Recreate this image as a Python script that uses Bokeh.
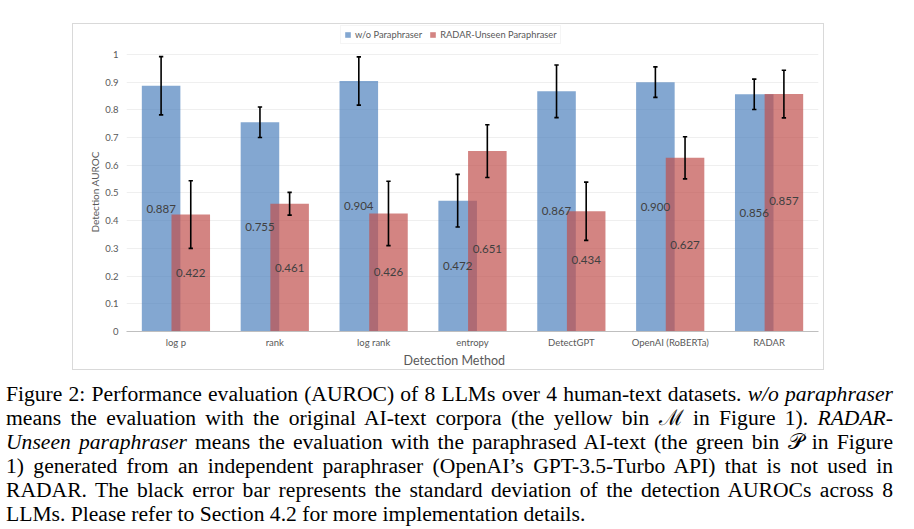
from bokeh.plotting import figure
from bokeh.models import (ColumnDataSource, FactorRange, Range1d, FixedTicker,
                          Legend, LegendItem, Title, Div, Spacer)
from bokeh.layouts import column, row
from bokeh.transform import dodge
from bokeh.core.properties import value
from bokeh.embed import file_html
from bokeh.resources import INLINE

# ---------------- data ----------------
methods = ["log p", "rank", "log rank", "entropy", "DetectGPT", "OpenAI (RoBERTa)", "RADAR"]
series_names = ["w/o Paraphraser", "RADAR-Unseen Paraphraser"]
auroc_wo = [0.887, 0.755, 0.904, 0.472, 0.867, 0.900, 0.856]
std_wo = [0.105, 0.055, 0.087, 0.095, 0.095, 0.055, 0.055]
auroc_unseen = [0.422, 0.461, 0.426, 0.651, 0.434, 0.627, 0.857]
std_unseen = [0.122, 0.041, 0.116, 0.095, 0.105, 0.076, 0.086]
y_ticks = [0, 0.1, 0.2, 0.3, 0.4, 0.5, 0.6, 0.7, 0.8, 0.9, 1]
y_tick_labels = ["0", "0.1", "0.2", "0.3", "0.4", "0.5", "0.6", "0.7", "0.8", "0.9", "1"]
x_title = "Detection Method"
y_title = "Detection AUROC"

caption_lines = [
    "Figure 2: Performance evaluation (AUROC) of 8 LLMs over 4 human-text datasets. <i>w/o paraphraser</i>",
    "means the evaluation with the original AI-text corpora (the yellow bin \u2133 in Figure 1). <i>RADAR-</i>",
    "<i>Unseen paraphraser</i> means the evaluation with the paraphrased AI-text (the green bin \U0001D4AB in Figure",
    "1) generated from an independent paraphraser (OpenAI\u2019s GPT-3.5-Turbo API) that is not used in",
    "RADAR. The black error bar represents the standard deviation of the detection AUROCs across 8",
    "LLMs. Please refer to Section 4.2 for more implementation details.",
]

# styling (label nudges in screen pixels, as placed in the original chart)
label_dy_wo = [0, 0, 0, 0, 0, 0, 0]
label_dy_unseen = [0, 0, 0, 8, -11, 0, -12]

FONT = "Lato"
GREY = "#595959"


def make_source(vals, stds, dys):
    return ColumnDataSource(dict(
        method=methods,
        val=vals,
        lo=[v - s for v, s in zip(vals, stds)],
        hi=[v + s for v, s in zip(vals, stds)],
        mid=[v / 2 for v in vals],
        label=["%.3f" % v for v in vals],
        dy=dys,
    ))


src_wo = make_source(auroc_wo, std_wo, label_dy_wo)
src_un = make_source(auroc_unseen, std_unseen, label_dy_unseen)

# plot area extends upward to hold the legend strip above the 1.0 gridline
p = figure(
    x_range=FactorRange(*methods, range_padding=0),
    y_range=Range1d(0, 1.108),
    width=752, height=347,
    output_backend="svg", toolbar_location=None, title=None,
    min_border_left=53, min_border_right=7, min_border_top=0, min_border_bottom=40,
    background_fill_color="white", border_fill_color="white",
    styles={"border": "1px solid #d9d9d9"},
)
p.outline_line_color = None
p.xgrid.grid_line_color = None
p.ygrid.grid_line_color = "#efefef"
p.ygrid.grid_line_width = 1

OFF = 0.15
BW = 0.39
CAP = 0.022

bars = []
for src, off, color in [(src_wo, -OFF, "#4F81BD"), (src_un, OFF, "#C0504D")]:
    r = p.vbar(x=dodge("method", off, range=p.x_range), top="val", width=BW, source=src,
               fill_color=color, fill_alpha=0.7, line_color=None)
    bars.append(r)

for src, off in [(src_wo, -OFF), (src_un, OFF)]:
    p.segment(x0=dodge("method", off, range=p.x_range), y0="lo",
              x1=dodge("method", off, range=p.x_range), y1="hi",
              source=src, line_color="black", line_width=1.6)
    for yk in ["lo", "hi"]:
        p.segment(x0=dodge("method", off - CAP, range=p.x_range), y0=yk,
                  x1=dodge("method", off + CAP, range=p.x_range), y1=yk,
                  source=src, line_color="black", line_width=1.6)

for src, off in [(src_wo, -OFF), (src_un, OFF)]:
    p.text(x=dodge("method", off, range=p.x_range), y="mid", text="label", source=src,
           y_offset="dy",
           text_align="center", text_baseline="middle", text_font=value(FONT),
           text_font_size="11.5px", text_color="#404040")

# axes
p.yaxis.ticker = FixedTicker(ticks=y_ticks)
p.yaxis.major_label_overrides = dict(zip(y_ticks, y_tick_labels))
p.yaxis.axis_line_color = None
p.yaxis.major_tick_line_color = None
p.yaxis.minor_tick_line_color = None
p.yaxis.major_tick_out = 0
p.yaxis.minor_tick_out = 0
p.yaxis.major_label_standoff = 8
p.yaxis.major_label_text_font = FONT
p.yaxis.major_label_text_font_size = "9.5px"
p.yaxis.major_label_text_color = GREY

p.xaxis.axis_line_color = "#bfbfbf"
p.xaxis.axis_line_width = 1
p.xaxis.major_tick_line_color = None
p.xaxis.minor_tick_line_color = None
p.xaxis.major_tick_out = 0
p.xaxis.minor_tick_out = 0
p.xaxis.major_label_standoff = 5
p.xaxis.major_label_text_font = FONT
p.xaxis.major_label_text_font_size = "9.5px"
p.xaxis.major_label_text_color = GREY

p.add_layout(Title(text=x_title, align="left", offset=277, text_font=FONT,
                   text_font_size="12.5px", text_color=GREY, text_font_style="normal",
                   standoff=0), "below")
p.add_layout(Title(text=y_title, align="left", offset=99, text_font=FONT,
                   text_font_size="10px", text_color=GREY, text_font_style="normal",
                   standoff=4), "left")

legend = Legend(
    items=[LegendItem(label=series_names[0], renderers=[bars[0]]),
           LegendItem(label=series_names[1], renderers=[bars[1]])],
    orientation="horizontal", location=(214, 287),
    glyph_width=7, glyph_height=7, label_height=10, label_width=10,
    label_standoff=4, spacing=7, padding=3, margin=0,
    label_text_font=FONT, label_text_font_size="9.3px", label_text_color=GREY,
    border_line_color="#ececec", background_fill_color="white", background_fill_alpha=1,
)
p.add_layout(legend)

# caption
CAP_W = 887
parts = []
for i, line in enumerate(caption_lines):
    if i < len(caption_lines) - 1:
        parts.append('<div style="text-align:justify;text-align-last:justify;white-space:nowrap">%s</div>' % line)
    else:
        parts.append('<div style="white-space:nowrap">%s</div>' % line)
caption_html = '<div style="width:%dpx">%s</div>' % (CAP_W, "".join(parts))
caption = Div(text=caption_html, width=CAP_W, height=144, margin=(12, 0, 0, 6),
              styles={"font-family": "'Liberation Serif', 'DejaVu Serif', serif",
                      "font-size": "21.6px", "line-height": "24px", "color": "black",
                      "overflow": "visible"})

layout = column(Spacer(height=23), row(Spacer(width=72), p), caption)

open("out.html", "w").write(file_html(layout, INLINE))
